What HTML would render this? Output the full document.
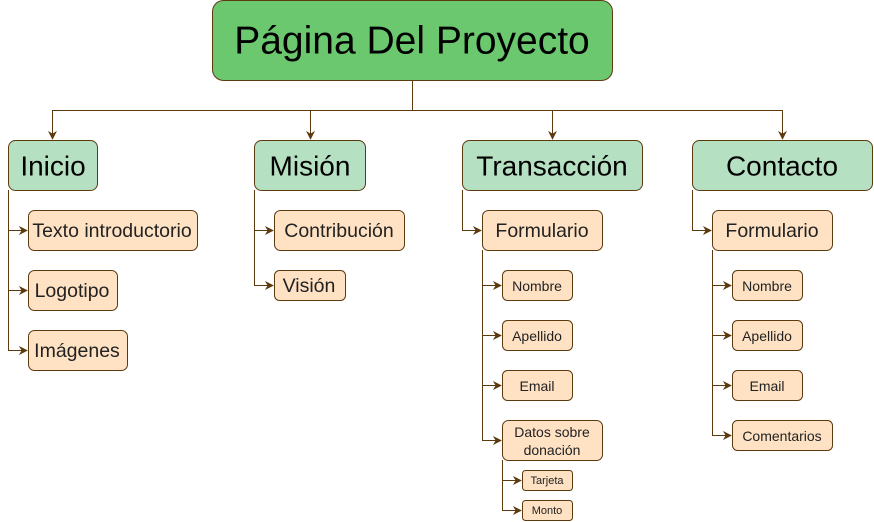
<!DOCTYPE html>
<html><head><meta charset="utf-8"><style>
html,body{margin:0;padding:0;background:#fff;width:874px;height:522px;overflow:hidden}
svg text{font-family:"Liberation Sans",Arial,sans-serif;text-anchor:middle;dominant-baseline:central}
</style></head><body>
<svg width="874" height="522" viewBox="0 0 874 522" xmlns="http://www.w3.org/2000/svg">
<defs><marker id="a" viewBox="0 0 10 10" refX="9" refY="5" markerWidth="9" markerHeight="9" orient="auto" markerUnits="userSpaceOnUse"><path d="M0,0 L10,5 L0,10 L3,5 Z" fill="#5c3a0e"/></marker></defs>
<g fill="none" stroke="#5c3a0e" stroke-width="1">
<path d="M412.5,80 V110.5 H52.5 V139" marker-end="url(#a)"/>
<path d="M310.5,110.5 V139" marker-end="url(#a)"/>
<path d="M552.5,110.5 V139" marker-end="url(#a)"/>
<path d="M412.5,110.5 H782.5 V139" marker-end="url(#a)"/>
<path d="M8.5,190 V350.5 H27"  marker-end="url(#a)"/>
<path d="M8.5,230.5 H27" marker-end="url(#a)"/>
<path d="M8.5,290.5 H27" marker-end="url(#a)"/>
<path d="M254.5,190 V285.5 H273" marker-end="url(#a)"/>
<path d="M254.5,230.5 H273" marker-end="url(#a)"/>
<path d="M462.5,190 V230.5 H481" marker-end="url(#a)"/>
<path d="M482.5,250 V440.5 H501" marker-end="url(#a)"/>
<path d="M482.5,285.5 H501" marker-end="url(#a)"/>
<path d="M482.5,335.5 H501" marker-end="url(#a)"/>
<path d="M482.5,385.5 H501" marker-end="url(#a)"/>
<path d="M502.5,460 V510.5 H521" marker-end="url(#a)"/>
<path d="M502.5,480.5 H521" marker-end="url(#a)"/>
<path d="M692.5,190 V230.5 H711" marker-end="url(#a)"/>
<path d="M712.5,250 V435.5 H731" marker-end="url(#a)"/>
<path d="M712.5,285.5 H731" marker-end="url(#a)"/>
<path d="M712.5,335.5 H731" marker-end="url(#a)"/>
<path d="M712.5,385.5 H731" marker-end="url(#a)"/>
</g>
<g stroke="#5c3a0e" stroke-width="1">
<rect x="212.5" y="0.5" width="400" height="80" rx="11" fill="#6bc86f"/>
<g fill="#b6e0c2">
<rect x="8.5" y="140.5" width="89" height="50" rx="7"/>
<rect x="254.5" y="140.5" width="111" height="50" rx="7"/>
<rect x="462.5" y="140.5" width="180" height="50" rx="7"/>
<rect x="692.5" y="140.5" width="180" height="50" rx="7"/>
</g>
<g fill="#ffe2c4">
<rect x="28.5" y="210.5" width="169" height="40" rx="6"/>
<rect x="28.5" y="270.5" width="89" height="40" rx="6"/>
<rect x="28.5" y="330.5" width="99" height="40" rx="6"/>
<rect x="274.5" y="210.5" width="130" height="40" rx="6"/>
<rect x="274.5" y="270.5" width="71" height="30" rx="5"/>
<rect x="482.5" y="210.5" width="120" height="40" rx="6"/>
<rect x="502.5" y="270.5" width="70" height="30" rx="5"/>
<rect x="502.5" y="320.5" width="70" height="30" rx="5"/>
<rect x="502.5" y="370.5" width="70" height="30" rx="5"/>
<rect x="502.5" y="420.5" width="100" height="40" rx="6"/>
<rect x="522.5" y="470.5" width="50" height="20" rx="3"/>
<rect x="522.5" y="500.5" width="50" height="20" rx="3"/>
<rect x="712.5" y="210.5" width="120" height="40" rx="6"/>
<rect x="732.5" y="270.5" width="70" height="30" rx="5"/>
<rect x="732.5" y="320.5" width="70" height="30" rx="5"/>
<rect x="732.5" y="370.5" width="70" height="30" rx="5"/>
<rect x="732.5" y="420.5" width="100" height="30" rx="5"/>
</g>
</g>
<text x="412" y="41" font-size="39" fill="#000">Página Del Proyecto</text>
<g font-size="28" fill="#000">
<text x="53" y="166">Inicio</text>
<text x="310" y="166">Misión</text>
<text x="552" y="166">Transacción</text>
<text x="782" y="166">Contacto</text>
</g>
<g font-size="19.5" fill="#222">
<text x="112" y="231">Texto introductorio</text>
<text x="72" y="291">Logotipo</text>
<text x="77" y="351">Imágenes</text>
<text x="339" y="231">Contribución</text>
<text x="309" y="286">Visión</text>
<text x="542" y="231">Formulario</text>
<text x="772" y="231">Formulario</text>
</g>
<g font-size="14" fill="#222">
<text x="537" y="286">Nombre</text>
<text x="537" y="336">Apellido</text>
<text x="537" y="386">Email</text>
<text x="552" y="432">Datos sobre</text>
<text x="552" y="450">donación</text>
<text x="767" y="286">Nombre</text>
<text x="767" y="336">Apellido</text>
<text x="767" y="386">Email</text>
<text x="782" y="436">Comentarios</text>
</g>
<g font-size="11" fill="#222">
<text x="547" y="481">Tarjeta</text>
<text x="547" y="511">Monto</text>
</g>
</svg>
</body></html>
